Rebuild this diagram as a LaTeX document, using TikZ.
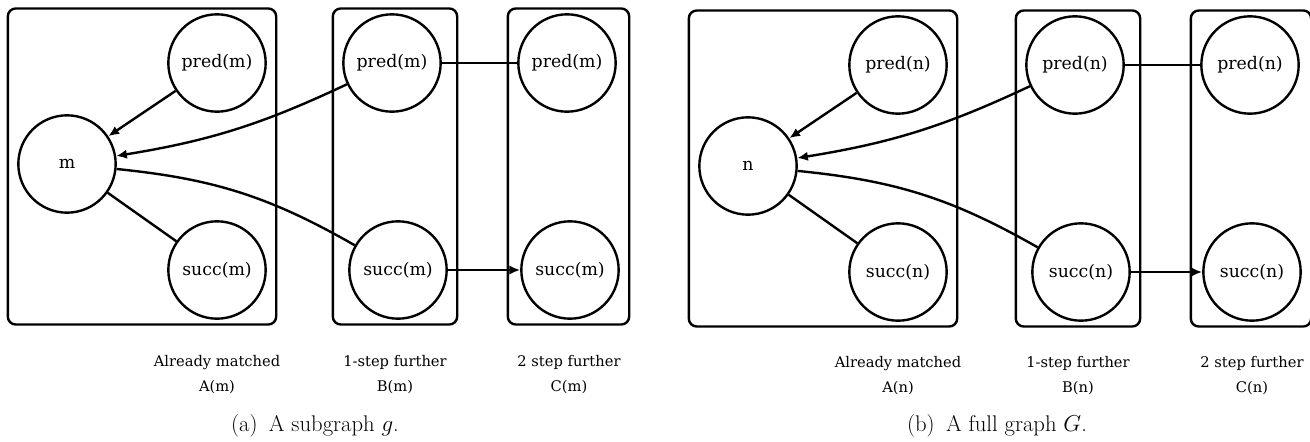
\documentclass[tikz,border=0pt]{standalone}
\usepackage{fontspec}
\newfontfamily\slabfont{DejaVu Serif}
\usepackage{amsmath,amssymb}
\usetikzlibrary{positioning,arrows.meta,fit,backgrounds}

\begin{document}
\begin{tikzpicture}[x=0.75pt, y=-0.75pt,
  every node/.style={font=\slabfont},
  vert/.style={circle, draw, line width=1.8pt, minimum size=73pt, inner sep=0pt,
               font=\slabfont\fontsize{13}{15}\selectfont},
  grp/.style={rectangle, rounded corners=6pt, draw, line width=1.8pt,
              inner xsep=7pt, inner ysep=3.5pt},
  lbl/.style={align=center, font=\slabfont\fontsize{11}{18.75}\selectfont},
  subcap/.style={font=\normalfont\fontsize{17}{19}\selectfont},
  lnk/.style={line width=1.8pt},
  arr/.style={-{Latex[length=8pt,width=7pt]}, line width=1.8pt}
]
  \useasboundingbox (0,0) rectangle (1310,442);

  % (a) subgraph g
  \node[vert] (m)      at (67,164)  {m};
  \node[vert] (predAm) at (217,63)  {pred(m)};
  \node[vert] (succAm) at (217,270) {succ(m)};
  \node[vert] (predBm) at (392,63)  {pred(m)};
  \node[vert] (succBm) at (398,270) {succ(m)};
  \node[vert] (predCm) at (567,63)  {pred(m)};
  \node[vert] (succCm) at (570,270) {succ(m)};

  \begin{scope}[on background layer]
    \node[grp, fit=(m)(predAm)(succAm)] (boxAm) {};
    \node[grp, fit=(predBm)(succBm)] (boxBm) {};
    \node[grp, fit=(predCm)(succCm)] (boxCm) {};
  \end{scope}

  \draw[arr] (predAm) -- (m);
  \draw[arr] (predBm) to[bend left=8] (m);
  \draw[lnk] (m) -- (succAm);
  \draw[lnk] (m) to[bend left=12] (succBm);
  \draw[lnk] (predBm) -- (predCm);
  \draw[arr] (succBm) -- (succCm);

  \node[lbl] (lblAm) at (217,375) {Already matched\\A(m)};
  \node[lbl] (lblBm) at (395,375) {1-step further\\B(m)};
  \node[lbl] (lblCm) at (569,375) {2 step further\\C(m)};
  \node[subcap] (capm) at (315,426) {(a)\enspace A subgraph $g$.};

  % (b) full graph G
  \node[vert] (n)      at (748,166)  {n};
  \node[vert] (predAn) at (898,65)   {pred(n)};
  \node[vert] (succAn) at (898,272)  {succ(n)};
  \node[vert] (predBn) at (1075,65)  {pred(n)};
  \node[vert] (succBn) at (1081,272) {succ(n)};
  \node[vert] (predCn) at (1250,65)  {pred(n)};
  \node[vert] (succCn) at (1252,272) {succ(n)};

  \begin{scope}[on background layer]
    \node[grp, fit=(n)(predAn)(succAn)] (boxAn) {};
    \node[grp, fit=(predBn)(succBn)] (boxBn) {};
    \node[grp, fit=(predCn)(succCn)] (boxCn) {};
  \end{scope}

  \draw[arr] (predAn) -- (n);
  \draw[arr] (predBn) to[bend left=8] (n);
  \draw[lnk] (n) -- (succAn);
  \draw[lnk] (n) to[bend left=12] (succBn);
  \draw[lnk] (predBn) -- (predCn);
  \draw[arr] (succBn) -- (succCn);

  \node[lbl] (lblAn) at (898,376)  {Already matched\\A(n)};
  \node[lbl] (lblBn) at (1078,376) {1-step further\\B(n)};
  \node[lbl] (lblCn) at (1252,376) {2 step further\\C(n)};
  \node[subcap] (capn) at (997,426) {(b)\enspace A full graph $G$.};
\end{tikzpicture}
\end{document}
